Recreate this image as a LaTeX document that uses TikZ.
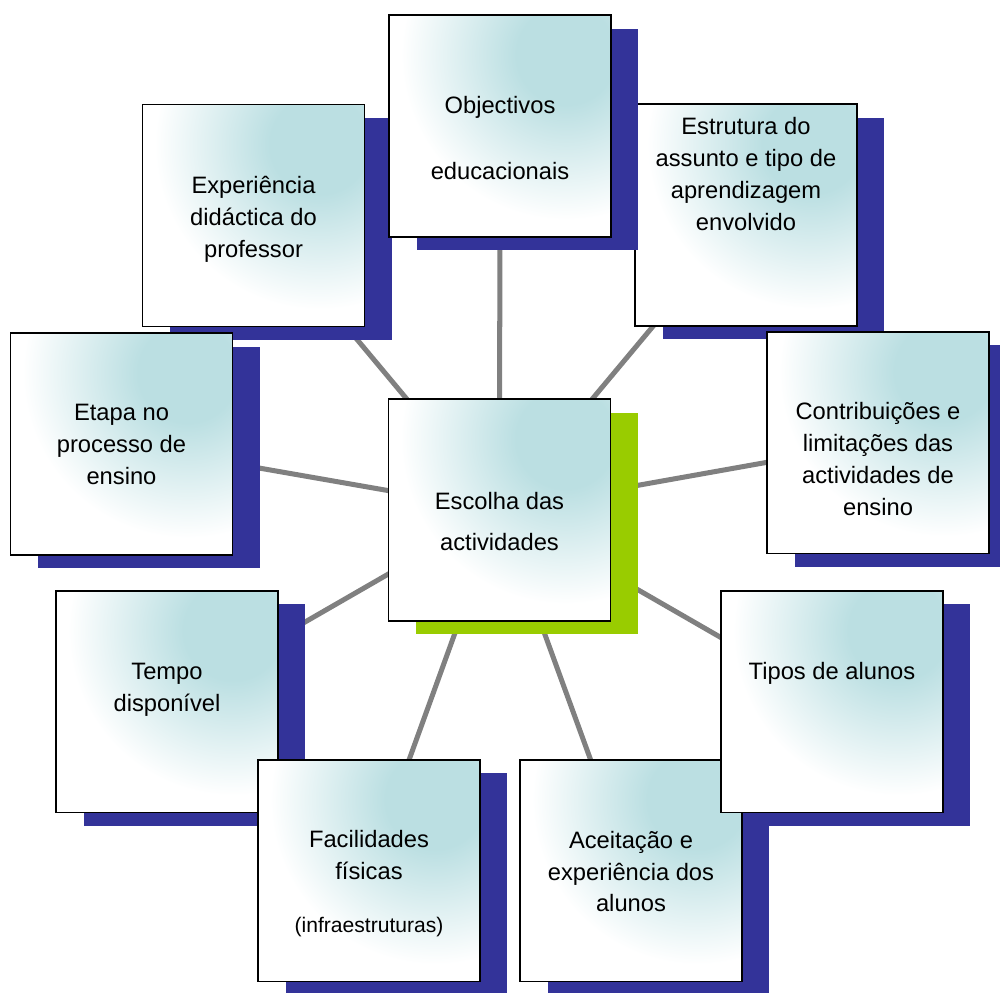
\documentclass[tikz,border=0pt]{standalone}
\usepackage{fontspec}
\setmainfont{Liberation Sans}
\usetikzlibrary{shadows, backgrounds}
\definecolor{ShadowBlue}{RGB}{51, 51, 153}
\definecolor{ShadowGreen}{RGB}{153, 204, 0}
\definecolor{GlowTeal}{RGB}{187, 223, 226}
\definecolor{LinkGray}{RGB}{128, 128, 128}
% 25bp of the shading = radius of the shaded circle (5.5cm here)
\pgfdeclareradialshading{boxglow}{\pgfpoint{0bp}{0bp}}{color(0bp)=(GlowTeal); color(4.5bp)=(GlowTeal); color(15bp)=(white); color(50bp)=(white)}
\tikzset{
  panel/.style={draw=black, line width=1.1pt, fill=white, minimum size=4.44cm, inner sep=0pt,
    path picture={\shade[shading=boxglow] ([xshift=-0.9cm, yshift=-0.8cm]path picture bounding box.north east) circle (5.5cm);}},
  factor/.style={panel, general shadow={fill=ShadowBlue, shadow xshift=0.55cm, shadow yshift=-0.27cm}},
  choice/.style={panel, general shadow={fill=ShadowGreen, shadow xshift=0.55cm, shadow yshift=-0.27cm}},
  factor text/.style={font=\fontsize{13.5}{18.2}\selectfont, align=center, inner sep=0pt},
  link/.style={draw=LinkGray, line width=2.85pt}
}

\begin{document}
\begin{tikzpicture}[x=0.02cm, y=-0.02cm]
\useasboundingbox (0, 0) rectangle (1000, 992);
% outer ring, back to front
\node[factor] (estr) at (746, 215) {};
\node[factor text] (estr-t) at (746, 174) {Estrutura do\\assunto e tipo de\\aprendizagem\\envolvido};
\node[factor] (expr) at (253.5, 215.5) {};
\node[factor text] (expr-t) at (253.5, 219) {Experiência\\didáctica do\\professor};
\node[factor] (obj) at (500, 126) {};
\node[factor text] (obj-t) at (500, 138) {Objectivos\\[19.9pt]educacionais};
\node[factor] (etapa) at (121.5, 444) {};
\node[factor text] (etapa-t) at (121.5, 444) {Etapa no\\processo de\\ensino};
\node[factor] (contrib) at (878, 442.5) {};
\node[factor text] (contrib-t) at (878, 459) {Contribuições e\\limitações das\\actividades de\\ensino};
\node[factor] (tempo) at (167, 701.5) {};
\node[factor text] (tempo-t) at (167, 690) {Tempo\\disponível};
\node[factor] (facil) at (369, 870.5) {};
\node[factor text] (facil-t) at (369, 883.5) {Facilidades\\físicas\\[12pt]{\fontsize{12}{14}\selectfont(infraestruturas)}};
\node[factor] (aceit) at (631, 870.5) {};
\node[factor text] (aceit-t) at (631, 871.5) {Aceitação e\\experiência dos\\alunos};
\node[factor] (tipos) at (832, 701.5) {};
\node[factor text] (tipos-t) at (832, 673) {Tipos de alunos};
% the choice in the middle
\node[choice] (centre) at (499.5, 510) {};
\node[factor text] (centre-t) at (499.5, 521.5) {Escolha das\\[4.6pt]actividades};
% spokes go under everything
\begin{scope}[on background layer]
\foreach \f in {obj, estr, contrib, tipos, aceit, facil, tempo, etapa, expr}
  \draw[link] (centre.center) -- (\f.center);
\end{scope}
\end{tikzpicture}
\end{document}
